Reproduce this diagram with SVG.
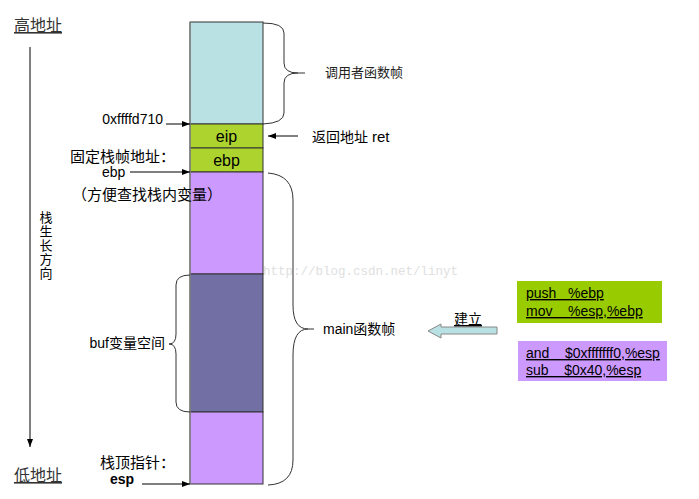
<svg xmlns="http://www.w3.org/2000/svg" width="699" height="499" viewBox="0 0 699 499">
<style>
text{font-family:"Liberation Sans","Noto Sans CJK SC",sans-serif;fill:#000;}
.t13{font-size:13px;}
.t14{font-size:14px;}
.t15{font-size:15px;}
.t16{font-size:16px;}
.cell{stroke:#333;stroke-width:1;}
.brace{fill:none;stroke:#333;stroke-width:1;}
.ln{stroke:#000;stroke-width:1;fill:none;}
.ul{text-decoration:underline;}
</style>
<defs>
<marker id="ah" markerWidth="8" markerHeight="6" refX="8" refY="3" orient="auto" markerUnits="userSpaceOnUse">
<path d="M0,0 L8,3 L0,6 z" fill="#000"/>
</marker>
</defs>
<rect width="699" height="499" fill="#fff"/>

<text x="263" y="275" style="font-family:'Liberation Mono',monospace;font-size:12.5px;fill:#e0e0e0">http://blog.csdn.net/linyt</text>

<g id="stack">
<rect class="cell" x="190" y="22" width="73" height="102" fill="#B9E0E3"/>
<g id="eip"><rect class="cell" x="190" y="124" width="73" height="24" fill="#ADD42E"/><text x="226.5" y="142" text-anchor="middle" class="t16">eip</text></g>
<g id="ebp"><rect class="cell" x="190" y="148" width="73" height="24" fill="#ADD42E"/><text x="226.5" y="166" text-anchor="middle" class="t16">ebp</text></g>
<rect class="cell" x="190" y="172" width="73" height="102" fill="#CC99FF"/>
<rect class="cell" x="190" y="274" width="73" height="138" fill="#716FA3"/>
<rect class="cell" x="190" y="412" width="73" height="72" fill="#CC99FF"/>
<line x1="190" y1="22" x2="190" y2="484" stroke="#888" stroke-width="1.5"/>
</g>

<g id="axis">
<text x="14" y="31" class="t16 ul" style="fill:#333">高地址</text>
<line class="ln" x1="30" y1="47" x2="30" y2="447" marker-end="url(#ah)"/>
<text x="14" y="481" class="t16 ul" style="fill:#333">低地址</text>
<g class="t13" style="fill:#333">
<text x="46" y="222" text-anchor="middle">栈</text>
<text x="46" y="236" text-anchor="middle">生</text>
<text x="46" y="250" text-anchor="middle">长</text>
<text x="46" y="264" text-anchor="middle">方</text>
<text x="46" y="278" text-anchor="middle">向</text>
</g>
</g>

<g id="connectors">
<line class="ln" x1="166" y1="124" x2="190" y2="124" marker-end="url(#ah)"/>
<line class="ln" x1="130" y1="172" x2="190" y2="172" marker-end="url(#ah)"/>
<line class="ln" x1="142" y1="484" x2="190" y2="484" marker-end="url(#ah)"/>
<line class="ln" x1="298" y1="136" x2="268" y2="136" marker-end="url(#ah)"/>
</g>

<g id="labels-left">
<text x="163" y="124" text-anchor="end" class="t14">0xffffd710</text>
<text x="70" y="162" class="t15">固定栈帧地址：</text>
<text x="102" y="177" class="t14">ebp</text>
<text x="72" y="200" class="t15">（方便查找栈内变量）</text>
<text x="100" y="468" class="t15">栈顶指针：</text>
<text x="110" y="484" class="t14" style="font-weight:bold">esp</text>
</g>

<g id="caller-brace">
<path class="brace" d="M263,23 Q284,23 284,33 L284,63 Q284,73 298,73 L305,73 M298,73 Q284,73 284,83 L284,113 Q284,123 263,124"/>
<text x="325" y="77" class="t13" style="fill:#222">调用者函数帧</text>
</g>

<g id="ret-label">
<text x="312" y="142" class="t14">返回地址 <tspan style="font-size:15px">ret</tspan></text>
</g>

<g id="main-brace">
<path class="brace" d="M268,173 Q293,175 293,200 L293,305 Q293,329 308,329 L314,329 M308,329 Q293,329 293,355 L293,460 Q293,484 268,485"/>
<text x="323" y="334" class="t14">main函数帧</text>
</g>

<g id="buf-brace">
<path class="brace" d="M190,275 Q176,275 176,285 L176,334 Q176,344 169,344 M169,344 Q176,344 176,354 L176,402 Q176,412 190,412"/>
<text x="165" y="348" text-anchor="end" class="t14">buf变量空间</text>
</g>

<g id="build-arrow">
<path d="M497,327 L441,327 L441,324 L428,331 L441,338 L441,334 L497,334 z" fill="#B9E0E3" stroke="#888" stroke-width="1"/>
<text x="454" y="324" class="t14 ul">建立</text>
</g>

<g id="prologue">
<rect x="517" y="281" width="145" height="42" fill="#99CC00"/>
<text x="526" y="298" class="t14 ul" xml:space="preserve">push   %ebp</text>
<text x="526" y="316" class="t14 ul" xml:space="preserve">mov    %esp,%ebp</text>
</g>

<g id="alloc">
<rect x="518" y="341" width="149" height="40" fill="#CC99FF"/>
<text x="526" y="358" class="t14 ul" xml:space="preserve">and    $0xfffffff0,%esp</text>
<text x="526" y="375" class="t14 ul" xml:space="preserve">sub    $0x40,%esp</text>
</g>
</svg>
